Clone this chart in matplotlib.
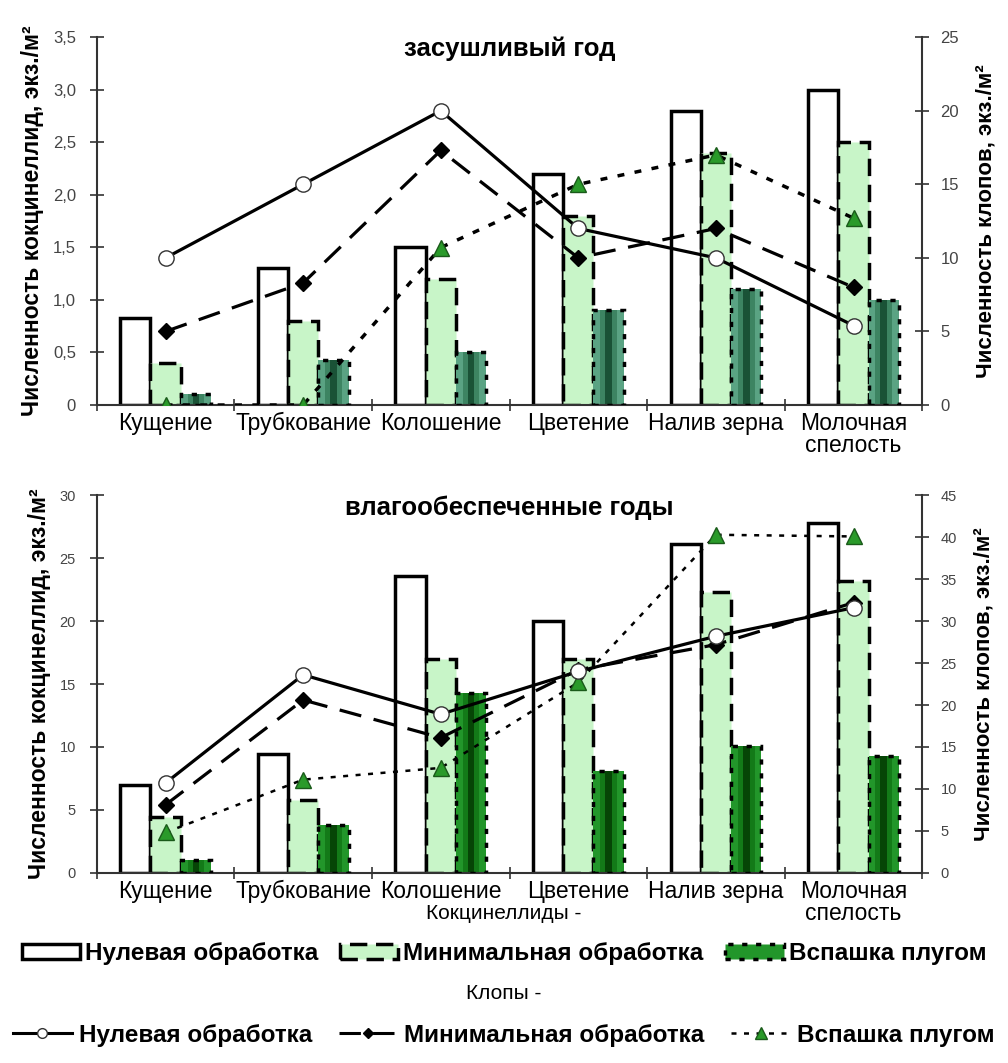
import matplotlib
matplotlib.use("Agg")
import matplotlib.pyplot as plt
import numpy as np
from matplotlib.patches import Patch
from matplotlib.lines import Line2D

plt.rcParams['font.family'] = ['Liberation Sans', 'DejaVu Sans']

categories = ["Кущение", "Трубкование", "Колошение", "Цветение", "Налив зерна", "Молочная\nспелость"]
series_names = ["Нулевая обработка", "Минимальная обработка", "Вспашка плугом"]

# dry year
dry_cocc_zero = [0.83, 1.3, 1.5, 2.2, 2.8, 3.0]
dry_cocc_min = [0.4, 0.8, 1.2, 1.8, 2.4, 2.5]
dry_cocc_plow = [0.1, 0.43, 0.5, 0.9, 1.1, 1.0]
dry_bugs_zero = [10.0, 15.0, 20.0, 12.0, 10.0, 5.4]
dry_bugs_min = [5.0, 8.3, 17.3, 10.0, 12.0, 8.0]
dry_bugs_plow = [0.0, 0.0, 10.7, 15.0, 17.0, 12.7]

# wet years
wet_cocc_zero = [7.0, 9.4, 23.6, 20.0, 26.1, 27.8]
wet_cocc_min = [4.4, 5.8, 17.0, 17.0, 22.3, 23.2]
wet_cocc_plow = [1.0, 3.8, 14.3, 8.1, 10.1, 9.3]
wet_bugs_zero = [10.7, 23.6, 18.9, 24.0, 28.2, 31.6]
wet_bugs_min = [8.1, 20.6, 16.1, 24.2, 27.2, 32.2]
wet_bugs_plow = [4.8, 11.1, 12.5, 22.7, 40.3, 40.1]

dry_left_ticks = [0, 0.5, 1.0, 1.5, 2.0, 2.5, 3.0, 3.5]
dry_left_labels = ["0", "0,5", "1,0", "1,5", "2,0", "2,5", "3,0", "3,5"]
dry_right_ticks = [0, 5, 10, 15, 20, 25]
wet_left_ticks = [0, 5, 10, 15, 20, 25, 30]
wet_right_ticks = [0, 5, 10, 15, 20, 25, 30, 35, 40, 45]

LIGHT = '#c8f5c8'
fig = plt.figure(figsize=(10.08, 10.63), dpi=100)

def panel(rect, title, cz, cm, cp, bz, bm, bp, lt, ltl, lmax, rt, rmax,
          dark, dark_mid, dark_core, tick_fs, plow_lw):
    ax = fig.add_axes(rect)
    x = np.arange(len(categories))
    w = 0.22
    ax.bar(x - w, cz, w, facecolor='white', edgecolor='black', linewidth=2.5, zorder=2)
    ax.bar(x, cm, w, facecolor=LIGHT, edgecolor='black', linewidth=2.5,
           linestyle=(0, (5, 2.5)), zorder=2)
    ax.bar(x + w, cp, w, facecolor=dark, edgecolor='none', zorder=2)
    ax.bar(x + w, cp, w * 0.55, facecolor=dark_mid, edgecolor='none', zorder=2)
    ax.bar(x + w, cp, w * 0.22, facecolor=dark_core, edgecolor='none', zorder=2)
    ax.bar(x + w, cp, w, fill=False, edgecolor='black', linewidth=2.5,
           linestyle=(0, (1.5, 2.5)), zorder=3)
    ax.set_xlim(-0.5, len(categories) - 0.5)
    ax.set_ylim(0, lmax)
    ax.set_yticks(lt)
    ax.set_yticklabels(ltl, fontsize=tick_fs, color='#444444')
    ax.set_xticks(np.arange(-0.5, len(categories)))
    ax.set_xticklabels([])
    ax.set_xticks(x, minor=True)
    ax.set_xticklabels(categories, minor=True, fontsize=16.5, linespacing=0.95)
    ax.tick_params(axis='x', which='minor', length=0, pad=5)
    ax.tick_params(axis='x', which='major', direction='inout', length=9, width=1.2, color='#333333')
    ax.tick_params(axis='y', direction='inout', length=10, width=1.2, color='#333333', pad=10)
    for s in ['top', 'right']:
        ax.spines[s].set_visible(False)
    for s in ['left', 'bottom']:
        ax.spines[s].set_color('#333333')
        ax.spines[s].set_linewidth(1.5)
    ax.set_ylabel("Численность кокцинеллид, экз./м²", fontsize=16.5, fontweight='bold', labelpad=6)
    ax.set_title(title, fontsize=18.5, fontweight='bold', y=0.925)

    ax2 = ax.twinx()
    ax2.set_ylim(0, rmax)
    ax2.set_yticks(rt)
    ax2.set_yticklabels([str(t) for t in rt], fontsize=tick_fs, color='#444444')
    ax2.tick_params(axis='y', direction='inout', length=10, width=1.2, color='#333333', pad=8)
    for s in ['top', 'left', 'bottom']:
        ax2.spines[s].set_visible(False)
    ax2.spines['right'].set_color('#333333')
    ax2.spines['right'].set_linewidth(1.5)
    ax2.plot(x, bp, color='black', linewidth=plow_lw, linestyle=(0, (2, 3)),
             marker='^', markersize=12, markerfacecolor='#2a9a2a', markeredgecolor='#1a5a1a', zorder=4)
    ax2.plot(x, bm, color='black', linewidth=2.3, linestyle=(0, (7, 4)),
             marker='D', markersize=8, markerfacecolor='black', markeredgecolor='black', zorder=5)
    ax2.plot(x, bz, color='black', linewidth=2.3, linestyle='-',
             marker='o', markersize=11, markerfacecolor='white', markeredgecolor='#333333', zorder=6)
    ax2.set_ylabel("Численность клопов, экз./м²", fontsize=16, fontweight='bold', labelpad=12)
    return ax, ax2

panel([0.096, 0.619, 0.819, 0.346], "засушливый год",
      dry_cocc_zero, dry_cocc_min, dry_cocc_plow,
      dry_bugs_zero, dry_bugs_min, dry_bugs_plow,
      dry_left_ticks, dry_left_labels, 3.5, dry_right_ticks, 25,
      '#5aa383', '#3d8462', '#1a5236', 12, 2.5)

panel([0.096, 0.179, 0.819, 0.355], "влагообеспеченные годы",
      wet_cocc_zero, wet_cocc_min, wet_cocc_plow,
      wet_bugs_zero, wet_bugs_min, wet_bugs_plow,
      wet_left_ticks, [str(t) for t in wet_left_ticks], 30, wet_right_ticks, 45,
      '#22962a', '#137a18', '#064506', 10.5, 1.8)

fig.text(0.5, 0.141, "Кокцинеллиды -", ha='center', va='center', fontsize=15)
fig.text(0.5, 0.065, "Клопы -", ha='center', va='center', fontsize=15)

bar_handles = [
    Patch(facecolor='white', edgecolor='black', linewidth=2.5),
    Patch(facecolor=LIGHT, edgecolor='black', linewidth=2.5, linestyle=(0, (5, 2.5))),
    Patch(facecolor='#22962a', edgecolor='black', linewidth=2.5, linestyle=(0, (1.5, 2.5))),
]
line_handles = [
    Line2D([], [], color='black', linewidth=2.2, marker='o', markersize=7,
           markerfacecolor='white', markeredgecolor='#333333'),
    Line2D([], [], color='black', linewidth=2.2, linestyle=(0, (7, 4)), marker='D', markersize=5,
           markerfacecolor='black'),
    Line2D([], [], color='black', linewidth=1.8, linestyle=(0, (2, 3)), marker='^', markersize=9,
           markerfacecolor='#2a9a2a', markeredgecolor='#1a5a1a'),
]
prop = {'weight': 'bold', 'size': 17.5}
fig.legend(bar_handles, series_names, loc='center', bbox_to_anchor=(0.5, 0.103), ncol=3,
           frameon=False, prop=prop, handlelength=2.4, handleheight=0.55, columnspacing=0.9,
           handletextpad=0.2, borderpad=0)
fig.legend(line_handles, series_names, loc='center', bbox_to_anchor=(0.5, 0.026), ncol=3,
           frameon=False, prop=prop, handlelength=2.4, columnspacing=1.1,
           handletextpad=0.3, borderpad=0)

fig.savefig("out.png", dpi=100, facecolor='white')
